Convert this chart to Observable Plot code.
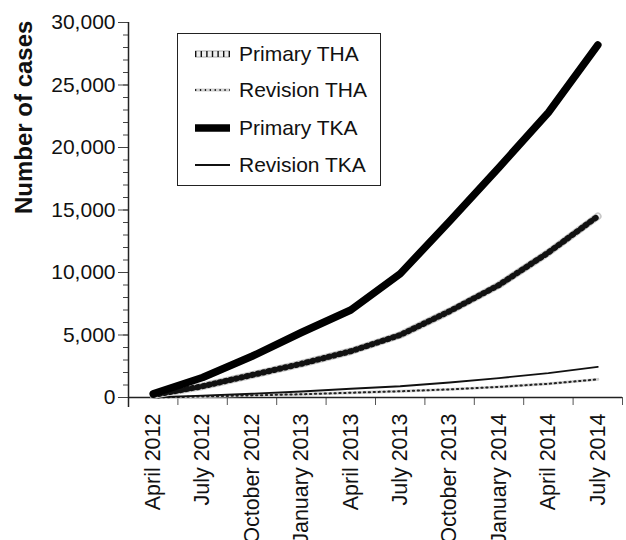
<!DOCTYPE html>
<html><head><meta charset="utf-8">
<script src="https://cdn.jsdelivr.net/npm/d3@7"></script>
<script src="https://cdn.jsdelivr.net/npm/@observablehq/plot@0.6"></script>
<style>
body{margin:0;background:#fff;}
#wrap{position:relative;width:626px;height:540px;font-family:"Liberation Sans",Arial,sans-serif;}
#legend{position:absolute;left:177px;top:33px;width:204px;height:153px;border:1.5px solid #222;box-sizing:border-box;}
.row{position:absolute;left:0;height:30px;display:flex;align-items:center;font-size:21px;color:#111;white-space:nowrap;}
.row svg{margin-left:17px;margin-right:9px;}
</style></head><body><div id="wrap"></div>
<script>
const months = ["April 2012","July 2012","October 2012","January 2013","April 2013","July 2013","October 2013","January 2014","April 2014","July 2014"];
const primaryTHA = [200, 900, 1800, 2700, 3700, 5000, 6900, 9000, 11600, 14500];
const revisionTHA = [0, 80, 170, 260, 380, 500, 650, 850, 1100, 1450];
const primaryTKA = [300, 1600, 3300, 5200, 7000, 9900, 14100, 18400, 22800, 28200];
const revisionTKA = [0, 150, 300, 480, 700, 900, 1200, 1550, 1950, 2450];
const yTicks = [0, 5000, 10000, 15000, 20000, 25000, 30000];
const yMinorTicks = d3.range(0, 30001, 1000);
const seriesNames = ["Primary THA", "Revision THA", "Primary TKA", "Revision TKA"];

const idx = months.map((d, i) => i);
const bounds = months.map((d, i) => i - 0.5).concat([months.length - 0.5]);
const X = (d, i) => i;
const Y = d => d;

const styles = {
  "Primary THA": [
    {stroke: "#c6c6c6", strokeWidth: 7.5},
    {stroke: "#efefef", strokeWidth: 4.5},
    {stroke: "#111", strokeWidth: 6, strokeDasharray: "1.4,4.2"}
  ],
  "Revision THA": [{stroke: "#d0d0d0", strokeWidth: 3}, {stroke: "#222", strokeWidth: 2, strokeDasharray: "1.3,3.6"}],
  "Primary TKA": [{stroke: "#000", strokeWidth: 7.5, strokeLinecap: "round"}],
  "Revision TKA": [{stroke: "#111", strokeWidth: 1.8}]
};
const dataBySeries = {"Primary THA": primaryTHA, "Revision THA": revisionTHA, "Primary TKA": primaryTKA, "Revision TKA": revisionTKA};
const drawOrder = ["Revision THA", "Revision TKA", "Primary THA", "Primary TKA"];

const lineMarks = [];
for (const name of drawOrder) {
  for (const s of styles[name]) {
    lineMarks.push(Plot.line(dataBySeries[name], {x: X, y: Y, strokeLinejoin: "round", ...s}));
  }
}

const chart = Plot.plot({
  width: 626,
  height: 540,
  marginLeft: 128,
  marginRight: 4,
  marginTop: 22,
  marginBottom: 143,
  style: {fontFamily: "Liberation Sans, Arial, sans-serif", fontSize: "21px", color: "#111", background: "#fff"},
  x: {type: "linear", domain: [-0.5, months.length - 0.5], axis: null},
  y: {domain: [0, 30000], axis: null},
  marks: [
    Plot.axisY({ticks: yMinorTicks, tickSize: 5, tickFormat: () => "", stroke: "#444", label: null}),
    Plot.axisY({ticks: yTicks, tickSize: 10, tickPadding: 3, tickFormat: d3.format(","), stroke: "#444", fontSize: 21, label: null}),
    Plot.axisX({ticks: bounds, tickSize: 8, tickFormat: () => "", stroke: "#555", label: null}),
    Plot.axisX({ticks: idx, tickSize: 0, tickPadding: 16, tickRotate: -90, tickFormat: i => months[i], fontSize: 21.5, label: null}),
    Plot.ruleY([0], {stroke: "#222", strokeWidth: 1.5}),
    Plot.ruleX([-0.5], {y1: -800, y2: 30000, stroke: "#222", strokeWidth: 1.5}),
    Plot.text(["Number of cases"], {frameAnchor: "left", rotate: -90, dx: -104, dy: 4, fontWeight: "bold", fontSize: 24, fill: "#111"}),
    ...lineMarks
  ]
});

const wrap = document.getElementById("wrap");
wrap.appendChild(chart);

const legend = document.createElement("div");
legend.id = "legend";
const rowTops = [5, 41, 79, 116];
seriesNames.forEach((name, k) => {
  const row = document.createElement("div");
  row.className = "row";
  row.style.top = rowTops[k] + "px";
  const sw = d3.create("svg").attr("width", 35).attr("height", 14);
  for (const s of styles[name]) {
    sw.append("line").attr("x1", 0).attr("x2", 35).attr("y1", 7).attr("y2", 7)
      .attr("stroke", s.stroke).attr("stroke-width", s.strokeWidth)
      .attr("stroke-dasharray", s.strokeDasharray || null);
  }
  row.appendChild(sw.node());
  const t = document.createElement("span");
  t.textContent = name;
  row.appendChild(t);
  legend.appendChild(row);
});
wrap.appendChild(legend);
</script>
</body></html>
